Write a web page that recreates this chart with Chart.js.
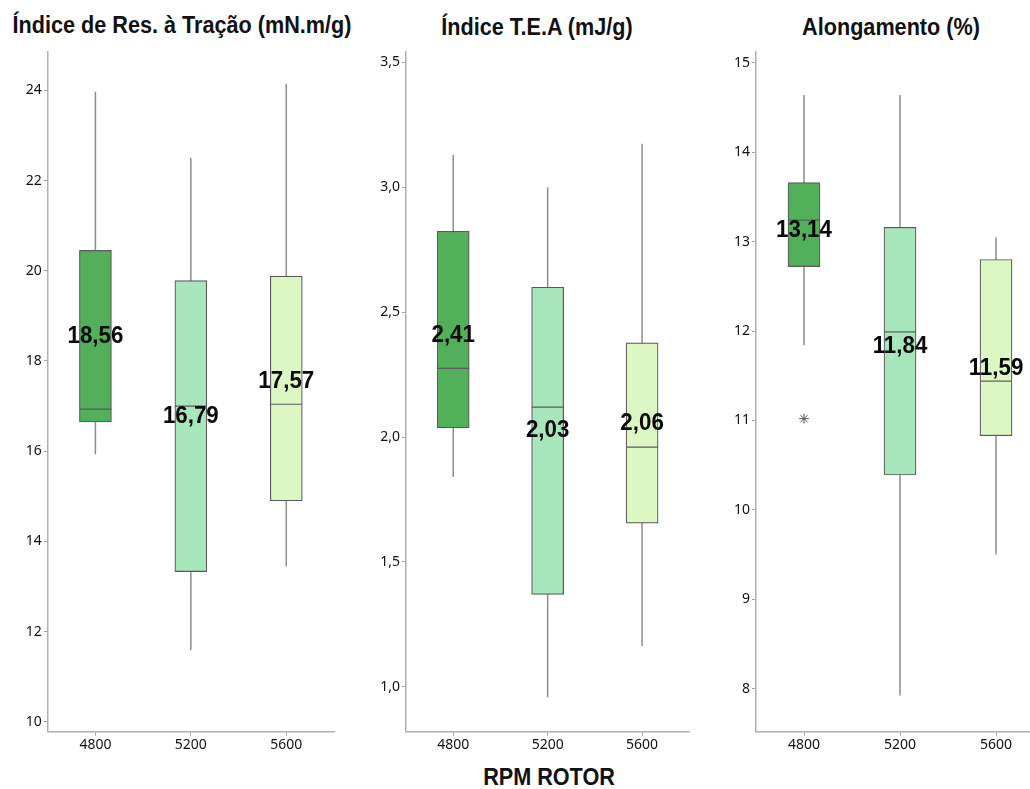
<!DOCTYPE html>
<html>
<head>
<meta charset="utf-8">
<script src="https://cdn.jsdelivr.net/npm/chart.js@4.4.1/dist/chart.umd.min.js"></script>
<style>
body{margin:0;background:#fff;width:1030px;height:789px;overflow:hidden;position:relative}
canvas{position:absolute;top:0}
.ttl{position:absolute;font-family:"Liberation Sans",Arial,sans-serif;font-weight:bold;font-size:23px;line-height:23px;white-space:nowrap;color:#111;transform:translateX(-50%) scaleX(0.94)}
</style>
</head>
<body>

<div class="ttl" style="left:182px;top:13.5px">Índice de Res. à Tração (mN.m/g)</div>
<div class="ttl" style="left:537px;top:15.5px">Índice T.E.A (mJ/g)</div>
<div class="ttl" style="left:891px;top:15.5px">Alongamento (%)</div>
<div class="ttl" style="left:549px;top:765.5px">RPM ROTOR</div>

<canvas id="c1" width="340" height="789" style="left:0px"></canvas>
<canvas id="c2" width="335" height="789" style="left:360px"></canvas>
<canvas id="c3" width="340" height="789" style="left:710px"></canvas>

<script>
// rotor speed groups
const rpm = ["4800", "5200", "5600"]
const fills = ["#52b05a", "#a8e6bc", "#dcf7c4"]

// tensile index (mN.m/g)
const tracaoMin  = [15.93, 11.59, 13.44]
const tracaoQ1   = [16.65, 13.33, 14.90]
const tracaoMed  = [16.93, 17.00, 17.04]
const tracaoQ3   = [20.45, 19.78, 19.88]
const tracaoMax  = [23.97, 22.50, 24.14]
const tracaoMean = [18.56, 16.79, 17.57]
const tracaoTicks = [10, 12, 14, 16, 18, 20, 22, 24]

// TEA index (mJ/g)
const teaMin  = [1.84, 0.958, 1.163]
const teaQ1   = [2.037, 1.37, 1.655]
const teaMed  = [2.275, 2.12, 1.96]
const teaQ3   = [2.824, 2.60, 2.377]
const teaMax  = [3.131, 3.00, 3.175]
const teaMean = [2.41, 2.03, 2.06]
const teaTicks = [1.0, 1.5, 2.0, 2.5, 3.0, 3.5]

// elongation (%)
const alongMin  = [11.84, 7.925, 9.50]
const alongQ1   = [12.72, 10.39, 10.83]
const alongMed  = [13.24, 11.99, 11.44]
const alongQ3   = [13.66, 13.16, 12.80]
const alongMax  = [14.64, 14.64, 13.05]
const alongMean = [13.14, 11.84, 11.59]
const alongOut  = [11.02, null, null]
const alongTicks = [8, 9, 10, 11, 12, 13, 14, 15]

const tickFont = {family: "'Noto Sans', sans-serif", size: 14}

// whiskers under the boxes, median lines and mean labels on top
const boxParts = {
  id: "boxParts",
  beforeDatasetsDraw(chart, args, opts){
    const ctx = chart.ctx
    const y = chart.scales.y
    const bars = chart.getDatasetMeta(0).data
    ctx.save()
    ctx.strokeStyle = "#8c8c8c"
    ctx.lineWidth = 1.5
    bars.forEach((b, i) => {
      ctx.beginPath()
      ctx.moveTo(b.x, y.getPixelForValue(opts.lo[i]))
      ctx.lineTo(b.x, y.getPixelForValue(opts.hi[i]))
      ctx.stroke()
    })
    ctx.restore()
  },
  afterDatasetsDraw(chart, args, opts){
    const ctx = chart.ctx
    const y = chart.scales.y
    const bars = chart.getDatasetMeta(0).data
    ctx.save()
    ctx.strokeStyle = "#5a5a5a"
    ctx.lineWidth = 1.2
    bars.forEach((b, i) => {
      const py = y.getPixelForValue(opts.med[i])
      ctx.beginPath()
      ctx.moveTo(b.x - b.width / 2, py)
      ctx.lineTo(b.x + b.width / 2, py)
      ctx.stroke()
    })
    ctx.fillStyle = "#0a0a0a"
    ctx.font = "bold 24px 'Liberation Sans', Arial, sans-serif"
    ctx.textAlign = "center"
    ctx.textBaseline = "middle"
    bars.forEach((b, i) => {
      ctx.save()
      ctx.translate(b.x, y.getPixelForValue(opts.mean[i]) + 1)
      ctx.scale(0.93, 1)
      ctx.fillText(opts.mean[i].toFixed(2).replace(".", ","), 0, 0)
      ctx.restore()
    })
    ctx.restore()
  }
}

function boxChart(id, s){
  const datasets = [{
    type: "bar",
    data: s.q1.map((v, i) => [v, s.q3[i]]),
    backgroundColor: fills,
    borderColor: "#5a5a5a",
    borderWidth: 1.2,
    borderSkipped: false,
    barThickness: 32
  }]
  if(s.out){
    datasets.push({
      type: "line",
      data: s.out,
      showLine: false,
      pointStyle: "star",
      pointRadius: 5,
      borderColor: "#555",
      borderWidth: 1
    })
  }
  new Chart(document.getElementById(id), {
    type: "bar",
    data: {labels: rpm, datasets: datasets},
    options: {
      responsive: false,
      animation: false,
      devicePixelRatio: 1,
      layout: {padding: {top: 52, right: s.padRight, bottom: 27.3, left: 0}},
      plugins: {
        legend: {display: false},
        tooltip: {enabled: false},
        boxParts: {lo: s.lo, hi: s.hi, med: s.med, mean: s.mean}
      },
      scales: {
        x: {
          offset: true,
          grid: {drawOnChartArea: false, offset: false, tickLength: 4, color: "#a0a0a0"},
          border: {color: "#b0b0b0", width: 1.5},
          ticks: {font: tickFont, color: "#111", padding: 1},
          afterFit(sc){ sc.height = 30 }
        },
        y: {
          min: s.min,
          max: s.max,
          grid: {drawOnChartArea: false, tickLength: 4, color: "#a0a0a0"},
          border: {color: "#b0b0b0", width: 1.5},
          ticks: {font: tickFont, color: "#111", padding: 2, callback: s.fmt},
          afterBuildTicks(sc){ sc.ticks = s.ticks.map(v => ({value: v})) },
          afterFit(sc){ sc.width = s.axisW }
        }
      }
    },
    plugins: [boxParts]
  })
}

boxChart("c1", {
  q1: tracaoQ1, q3: tracaoQ3, lo: tracaoMin, hi: tracaoMax, med: tracaoMed, mean: tracaoMean,
  ticks: tracaoTicks, min: 9.78, max: 24.85, axisW: 47.7, padRight: 6,
  fmt: v => String(v)
})

boxChart("c2", {
  q1: teaQ1, q3: teaQ3, lo: teaMin, hi: teaMax, med: teaMed, mean: teaMean,
  ticks: teaTicks, min: 0.82, max: 3.542, axisW: 46, padRight: 5.7,
  fmt: v => v.toFixed(1).replace(".", ",")
})

boxChart("c3", {
  q1: alongQ1, q3: alongQ3, lo: alongMin, hi: alongMax, med: alongMed, mean: alongMean,
  out: alongOut,
  ticks: alongTicks, min: 7.52, max: 15.12, axisW: 46, padRight: 6,
  fmt: v => String(v)
})
</script>
</body>
</html>
